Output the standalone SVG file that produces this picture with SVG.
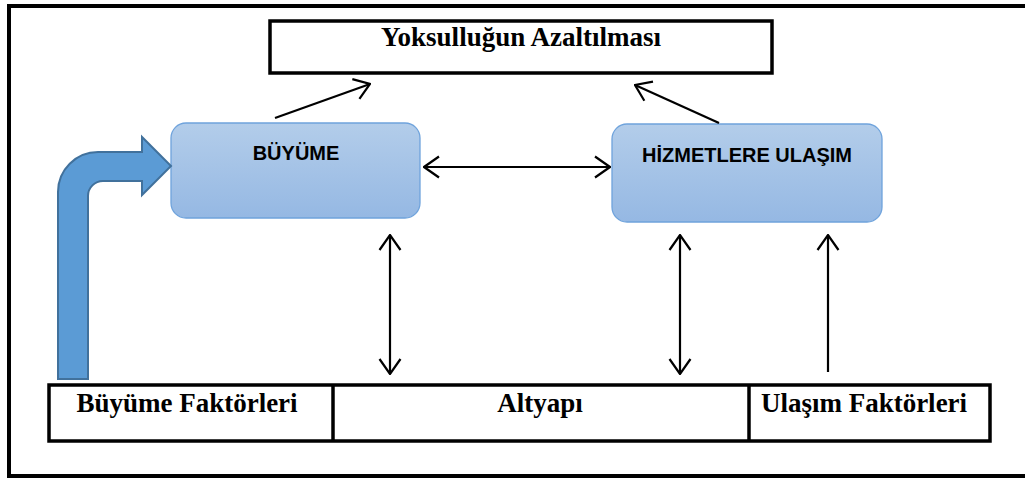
<svg xmlns="http://www.w3.org/2000/svg" width="1025" height="478" viewBox="0 0 1025 478">
<defs>
<linearGradient id="g" x1="0" y1="0" x2="0" y2="1">
<stop offset="0" stop-color="#b3cdea"/>
<stop offset="1" stop-color="#95b8e3"/>
</linearGradient>
<marker id="ah" viewBox="0 0 20 24" refX="19" refY="12" markerWidth="20" markerHeight="24" markerUnits="userSpaceOnUse" orient="auto-start-reverse">
<path d="M4,1.5 L19,12 L4,22.5" fill="none" stroke="#000" stroke-width="2.2"/>
</marker>
<style>
.frame{fill:none;stroke:#000;stroke-width:4}
.box{fill:#fff;stroke:#000;stroke-width:3.5}
.rbox{fill:url(#g);stroke:#6fa3dc;stroke-width:1.3}
.serif{font-family:"Liberation Serif","Times New Roman",serif;font-weight:bold;font-size:27px;fill:#000;text-anchor:middle}
.sans{font-family:"Liberation Sans",Arial,sans-serif;font-weight:bold;font-size:20px;fill:#000;text-anchor:middle}
.c{fill:none;stroke:#000;stroke-width:2.2}
</style>
</defs>
<rect width="1025" height="478" fill="#fff"/>
<rect class="frame" x="9" y="6" width="1030" height="470"/>
<g id="yoksulluk">
<rect class="box" x="270" y="21" width="502" height="52"/>
<text class="serif" x="521" y="46" font-size="26.8">Yoksulluğun Azaltılması</text>
</g>
<g id="buyume">
<rect class="rbox" x="171" y="123" width="249" height="95" rx="15"/>
<text class="sans" x="296" y="160">BÜYÜME</text>
</g>
<g id="hizmet">
<rect class="rbox" x="612" y="124" width="270" height="98" rx="15"/>
<text class="sans" x="747" y="162">HİZMETLERE ULAŞIM</text>
</g>
<g id="table">
<rect class="box" x="49" y="385" width="941" height="56"/>
<line x1="333" y1="385" x2="333" y2="441" stroke="#000" stroke-width="3.5"/>
<line x1="749" y1="385" x2="749" y2="441" stroke="#000" stroke-width="3.5"/>
<g id="buyume-faktorleri"><text class="serif" x="187" y="412">Büyüme Faktörleri</text></g>
<g id="altyapi"><text class="serif" x="540" y="412">Altyapı</text></g>
<g id="ulasim-faktorleri"><text class="serif" x="864" y="412" font-size="27.8">Ulaşım Faktörleri</text></g>
</g>
<g id="bent-arrow">
<path d="M58,379 L58,192 A40,40 0 0 1 98,152 L142,152 L142,137 L171,166 L142,195 L142,181 L103,181 A15,15 0 0 0 88,196 L88,379 Z" fill="#5b9bd5" stroke="#41719c" stroke-width="2"/>
</g>
<g id="connectors">
<line class="c" x1="275" y1="118" x2="370" y2="84" marker-end="url(#ah)"/>
<line class="c" x1="719" y1="123" x2="635" y2="85" marker-end="url(#ah)"/>
<line class="c" x1="424" y1="167" x2="610" y2="167" marker-start="url(#ah)" marker-end="url(#ah)"/>
<line class="c" x1="390" y1="235" x2="390" y2="374" marker-start="url(#ah)" marker-end="url(#ah)"/>
<line class="c" x1="680" y1="235" x2="680" y2="374" marker-start="url(#ah)" marker-end="url(#ah)"/>
<line class="c" x1="828" y1="372" x2="828" y2="235" marker-end="url(#ah)"/>
</g>
</svg>
